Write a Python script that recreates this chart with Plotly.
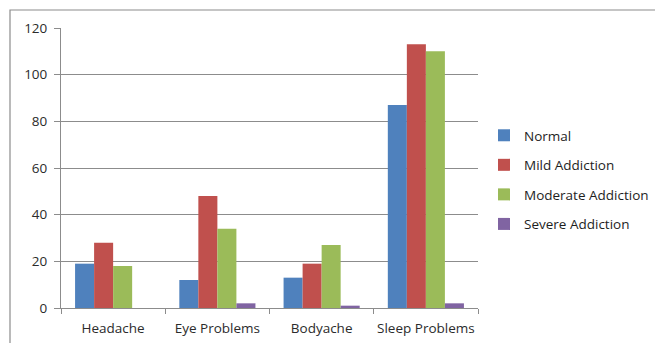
import plotly.graph_objects as go

categories = ["Headache", "Eye Problems", "Bodyache", "Sleep Problems"]
normal = [19, 12, 13, 87]
mild = [28, 48, 19, 113]
moderate = [18, 34, 27, 110]
severe = [0, 2, 1, 2]
y_ticks = [0, 20, 40, 60, 80, 100, 120]

series = [
    ("Normal", normal, "#4F81BD"),
    ("Mild Addiction", mild, "#C0504D"),
    ("Moderate Addiction", moderate, "#9BBB59"),
    ("Severe Addiction", severe, "#8064A2"),
]

W, H = 655, 343
L, R, T, B = 61, 177, 28, 35
pw, ph = W - L - R, H - T - B

fig = go.Figure()
for i, (name, vals, color) in enumerate(series):
    fig.add_trace(go.Bar(
        x=categories, y=vals, name=name,
        marker=dict(color=color, line=dict(width=0)),
        legendgroup=f"g{i}",
    ))

# outer frame around the chart
fig.add_shape(
    type="rect", xref="paper", yref="paper",
    x0=(10 - L) / pw, x1=(W + 5 - L) / pw,
    y0=(H - B - (H + 5)) / ph, y1=(H - B - 10) / ph,
    line=dict(color="#8C8C8C", width=1.2), layer="below",
)

fig.update_layout(
    width=W, height=H,
    margin=dict(l=L, r=R, t=T, b=B, autoexpand=False),
    paper_bgcolor="white", plot_bgcolor="white",
    barmode="group", bargap=0.27, bargroupgap=0,
    font=dict(family="Open Sans, Liberation Sans, sans-serif", size=13, color="#2b2b2b"),
    showlegend=True,
    legend=dict(
        x=(484 - L) / pw, y=(H - B - 120) / ph, xanchor="left", yanchor="top",
        font=dict(size=13.5, color="#1e1e1e"),
        tracegroupgap=9, traceorder="grouped",
        itemwidth=30, bgcolor="rgba(0,0,0,0)",
    ),
    xaxis=dict(
        showline=True, linecolor="#8C8C8C", linewidth=1,
        ticks="outside", tickson="boundaries", ticklen=5, tickcolor="#8C8C8C",
        showgrid=False, tickfont=dict(size=13.5, color="#2b2b2b"),
        ticklabelstandoff=8, tickangle=0,
    ),
    yaxis=dict(
        range=[0, 120], tickvals=y_ticks,
        showline=True, linecolor="#8C8C8C", linewidth=1,
        ticks="outside", ticklen=6, tickcolor="#8C8C8C",
        showgrid=True, gridcolor="#8C8C8C", gridwidth=1,
        zeroline=False, tickfont=dict(size=13.5, color="#2b2b2b"),
        ticklabelstandoff=4,
    ),
)

fig.write_html("out.html")
